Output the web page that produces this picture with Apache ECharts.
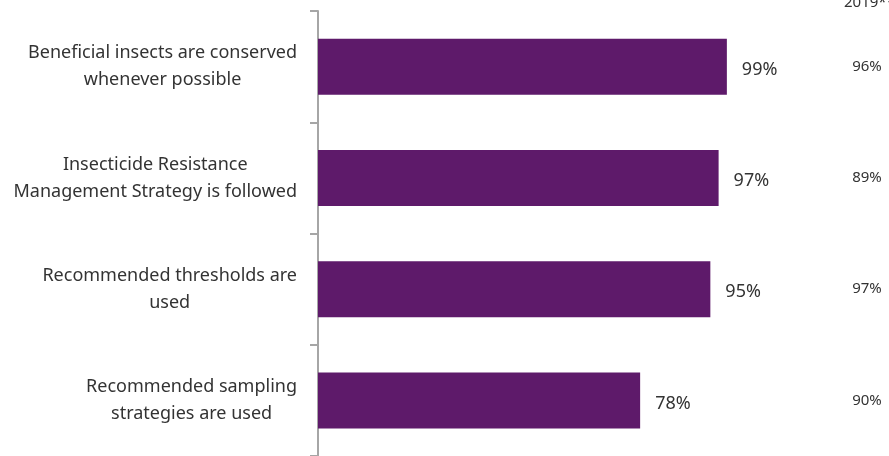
<!DOCTYPE html>
<html>
<head>
<meta charset="utf-8">
<script src="https://cdn.jsdelivr.net/npm/echarts@6/dist/echarts.min.js"></script>
<style>
  html, body { margin: 0; padding: 0; background: #fff; }
  #chart { width: 889px; height: 456px; }
</style>
</head>
<body>
<div id="chart"></div>
<script>
var categories = [
    'Beneficial insects are conserved\nwhenever possible',
    'Insecticide Resistance\nManagement Strategy is followed',
    'Recommended thresholds are\nused',
    'Recommended sampling\nstrategies are used'
];
var current = [99, 97, 95, 78];
var prev2019 = [96, 89, 97, 90];
var prevLabel = '2019**';

window.onload = function () {
    var chartDom = document.getElementById('chart');
    var myChart = echarts.init(chartDom);
    var font = 'Noto Sans';
    var textColor = '#333333';

    var option = {
        animation: false,
        title: {
            text: prevLabel,
            left: 839,
            top: -10,
            textStyle: { fontFamily: font, fontSize: 15, fontWeight: 'normal', color: textColor }
        },
        grid: {
            left: 318,
            right: 889 - 731,
            top: 11,
            bottom: -3,
            containLabel: false
        },
        xAxis: {
            type: 'value',
            min: 0,
            max: 100,
            show: false
        },
        yAxis: [
            {
                type: 'category',
                data: categories,
                inverse: true,
                axisLine: { show: true, lineStyle: { color: '#a6a6a6', width: 2 } },
                axisTick: { show: true, length: 8, lineStyle: { color: '#a6a6a6', width: 2 } },
                axisLabel: {
                    margin: 21,
                    color: textColor,
                    // each line centred, block right-aligned next to the axis
                    formatter: function (value) {
                        return value.split('\n').map(function (l) {
                            return '{c|' + l + '}';
                        }).join('\n');
                    },
                    rich: {
                        c: {
                            align: 'center',
                            fontFamily: font,
                            fontSize: 18,
                            lineHeight: 27,
                            color: textColor
                        }
                    }
                }
            },
            {
                type: 'category',
                data: categories,
                inverse: true,
                position: 'right',
                axisLine: { show: false },
                axisTick: { show: false },
                axisLabel: {
                    margin: 136,
                    align: 'center',
                    fontFamily: font,
                    fontSize: 15,
                    color: textColor,
                    formatter: function (value, index) {
                        return prev2019[index] + '%';
                    }
                }
            }
        ],
        series: [
            {
                type: 'bar',
                data: current,
                barWidth: 56,
                itemStyle: { color: '#5E1A6A' },
                label: {
                    show: true,
                    position: 'right',
                    distance: 15,
                    offset: [0, 3],
                    fontFamily: font,
                    fontSize: 18,
                    color: textColor,
                    formatter: '{c}%'
                }
            }
        ]
    };

    myChart.setOption(option);
};
</script>
</body>
</html>
